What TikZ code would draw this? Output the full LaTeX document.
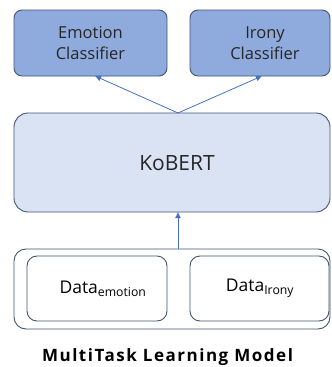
\documentclass[tikz,border=0pt]{standalone}
\usepackage{fontspec}
\setmainfont{Open Sans}
\usetikzlibrary{arrows.meta}
\definecolor{clsfill}{HTML}{8FAADC}
\definecolor{kobfill}{HTML}{DAE3F3}
\definecolor{bordc}{HTML}{42546F}
\definecolor{arrc}{HTML}{4472C4}
\begin{document}
\begin{tikzpicture}[x=1pt,y=-1pt,
  box/.style={draw=bordc, line width=0.9pt, inner sep=0pt, outer sep=0pt},
  cls/.style={box, fill=clsfill, rounded corners=8pt, minimum height=66pt},
  kob/.style={box, fill=kobfill, rounded corners=14pt, minimum width=316pt, minimum height=99pt},
  outerdata/.style={box, fill=white, rounded corners=12pt, minimum width=316pt, minimum height=80pt},
  databox/.style={box, fill=white, rounded corners=10pt, minimum height=65pt},
  clstext/.style={font=\fontsize{16.5}{21}\selectfont, text=black!85, align=center, inner sep=0pt},
  kobtext/.style={font=\fontsize{21}{25}\selectfont, text=black!85, inner sep=0pt},
  datatext/.style={font=\fontsize{17.5}{21}\selectfont, text=black, inner sep=0pt},
  titletext/.style={font=\fontsize{17}{20}\selectfont\bfseries\addfontfeature{LetterSpace=9}, text=black, inner sep=0pt},
  arr/.style={draw=arrc, line width=0.8pt, -{Latex[length=6pt,width=6pt]}}
]
\useasboundingbox (0,0) rectangle (332,367);
% classifiers
\node[cls, minimum width=153pt] (emo) at (90.5,43) {};
\node[cls, minimum width=140pt] (iro) at (260,43) {};
\node[clstext] (emot) at (90.5,43) {Emotion\\Classifier};
\node[clstext] (irot) at (265,43) {Irony\\Classifier};
% KoBERT
\node[kob] (kob) at (172,162.5) {};
\node[kobtext] (kobt) at (177,163) {KoBERT};
% data
\node[outerdata] (od) at (172,289) {};
\node[databox, minimum width=140pt] (de) at (97,288.5) {};
\node[databox, minimum width=139pt] (di) at (259.5,288.5) {};
\node[datatext] (det) at (103,288.5) {Data\textsubscript{emotion}};
\node[datatext] (dit) at (260,288.5) {Data\textsubscript{Irony}};
% title
\node[titletext] (title) at (167.5,357) {MultiTask Learning Model};
% arrows
\coordinate (ktop) at (178,113);
\coordinate (kbot) at (178,212);
\coordinate (odtop) at (178,249);
\draw[arr] (ktop) -- (emo.south -| 95,0);
\draw[arr] (ktop) -- (iro.south -| 262,0);
\draw[arr] (odtop) -- (kbot);
\end{tikzpicture}
\end{document}
